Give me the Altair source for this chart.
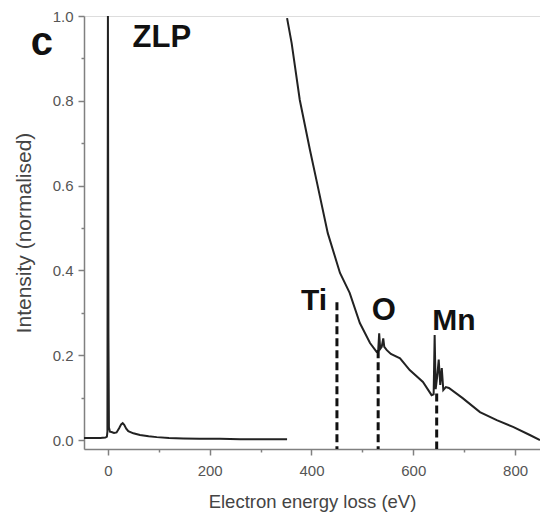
import altair as alt
import pandas as pd

# Low-loss spectrum (zero-loss peak + plasmon)
low_E = [-47, -30, -15, -5, -2, -1, 0, 1, 2, 4, 7, 12, 17, 22, 26, 29, 32, 36, 40, 50,
         63, 80, 96, 120, 148, 180, 220, 260, 300, 352]
low_I = [0.005, 0.005, 0.005, 0.006, 0.008, 0.02, 1.0, 0.25, 0.03, 0.02, 0.019, 0.017,
         0.018, 0.028, 0.037, 0.04, 0.036, 0.027, 0.021, 0.016, 0.012, 0.009, 0.007,
         0.005, 0.004, 0.003, 0.003, 0.002, 0.002, 0.002]

# Core-loss spectrum
core_E = [352, 361, 377, 397, 411, 432, 456, 475, 495, 515, 528, 531, 533, 535, 538,
          541, 543, 548, 556, 574, 593, 619, 636, 640, 642, 644, 647, 650, 653, 656,
          659, 664, 670, 697, 731, 764, 796, 829, 849]
core_I = [0.995, 0.936, 0.802, 0.684, 0.606, 0.488, 0.394, 0.347, 0.276, 0.229, 0.208,
          0.21, 0.252, 0.215, 0.22, 0.24, 0.22, 0.212, 0.203, 0.193, 0.165, 0.137,
          0.106, 0.108, 0.248, 0.12, 0.15, 0.19, 0.13, 0.17, 0.118, 0.125, 0.123,
          0.099, 0.066, 0.047, 0.031, 0.012, 0.0]

# Edge markers
edge_names = ["Ti", "O", "Mn"]
edge_E = [450, 531, 646]
edge_top = [0.325, 0.212, 0.11]

# Text labels
label_text = ["c", "ZLP", "Ti", "O", "Mn"]
label_E = [-130, 106, 405, 542, 680]
label_I = [0.908, 0.927, 0.307, 0.283, 0.259]
label_size = [40, 31, 30, 31, 30]

x_ticks = [0, 100, 200, 300, 400, 500, 600, 700, 800]
y_ticks = [0.0, 0.1, 0.2, 0.3, 0.4, 0.5, 0.6, 0.7, 0.8, 0.9, 1.0]
x_domain = [-47, 849]
y_domain = [-0.021, 1.0]

spectrum = pd.DataFrame({
    "E": low_E + core_E,
    "I": low_I + core_I,
    "segment": ["low"] * len(low_E) + ["core"] * len(core_E),
})
edges = pd.DataFrame({"name": edge_names, "E": edge_E, "top": edge_top,
                      "base": [y_domain[0]] * len(edge_names)})
labels = pd.DataFrame({"text": label_text, "E": label_E, "I": label_I, "size": label_size})

FONT = "Liberation Sans"

x_axis = alt.Axis(
    values=x_ticks,
    labelExpr="datum.value % 200 === 0 ? datum.label : ''",
    tickSize={"condition": {"test": "datum.value % 200 === 0", "value": 6}, "value": 3},
    title="Electron energy loss (eV)",
    grid=False,
    domainColor="#808080", domainWidth=1.5,
    tickColor="#808080", tickWidth=1.5,
    labelColor="#555555", labelFont=FONT, labelFontSize=15, labelPadding=8,
    titleColor="#444444", titleFont=FONT, titleFontSize=18.5, titleFontWeight="normal",
    titlePadding=14, labelOverlap=False,
)
y_axis = alt.Axis(
    values=y_ticks,
    format=".1f",
    labelExpr="round(datum.value * 10) % 2 === 0 ? datum.label : ''",
    tickSize={"condition": {"test": "round(datum.value * 10) % 2 === 0", "value": 6}, "value": 3},
    title="Intensity (normalised)",
    grid=False,
    domainColor="#808080", domainWidth=1.5,
    tickColor="#808080", tickWidth=1.5,
    labelColor="#555555", labelFont=FONT, labelFontSize=15, labelPadding=5,
    titleColor="#444444", titleFont=FONT, titleFontSize=21, titleFontWeight="normal",
    titlePadding=18, labelOverlap=False,
)

xs = alt.Scale(domain=x_domain, nice=False, zero=False)
ys = alt.Scale(domain=y_domain, nice=False, zero=False)

lines = alt.Chart(spectrum).mark_line(color="#222222", strokeWidth=2).encode(
    x=alt.X("E:Q", scale=xs, axis=x_axis),
    y=alt.Y("I:Q", scale=ys, axis=y_axis),
    detail="segment:N",
)

rules = alt.Chart(edges).mark_rule(color="#111111", strokeWidth=3, strokeDash=[8, 4]).encode(
    x="E:Q", y="top:Q", y2="base:Q"
)

texts = alt.Chart(labels).mark_text(font=FONT, fontWeight="bold", color="#111111",
                                    align="center", baseline="alphabetic").encode(
    x="E:Q", y="I:Q", text="text:N", size=alt.Size("size:Q", scale=None, legend=None)
)

chart = alt.layer(lines, rules, texts).properties(
    width=456, height=433,
    autosize=alt.AutoSizeParams(type="none"),
    padding={"left": 84, "top": 16, "right": 0, "bottom": 75},
).configure_view(stroke=None).configure(background="white")

chart.save("out.html", embed_options={"renderer": "svg", "actions": False})
